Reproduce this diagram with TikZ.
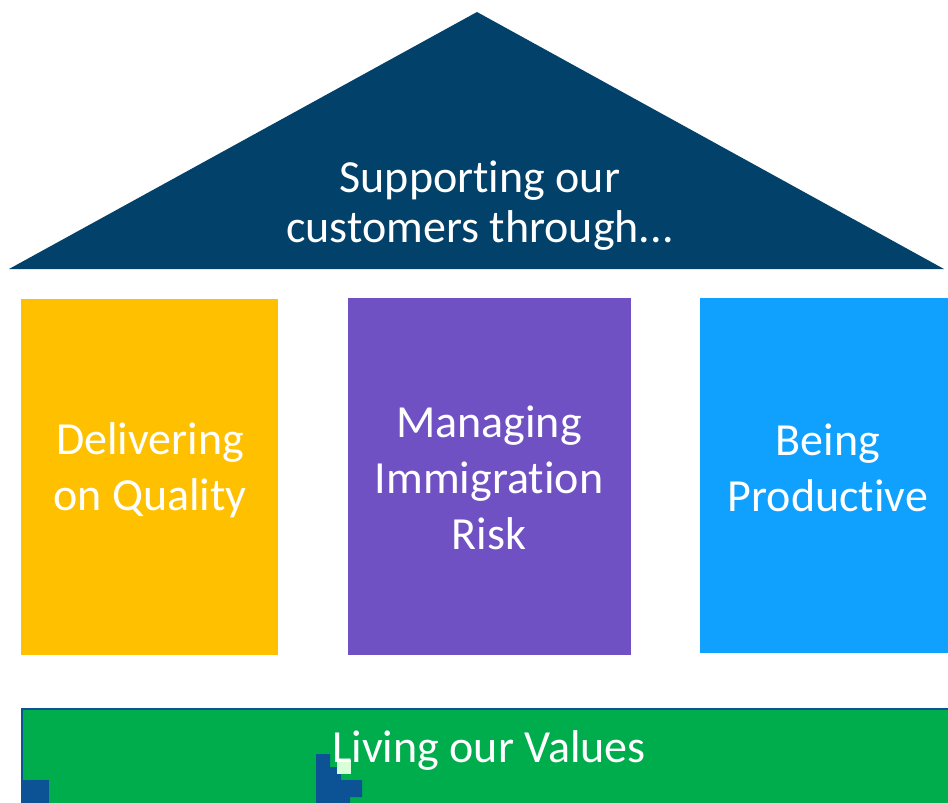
\documentclass[tikz,border=0pt]{standalone}
\usepackage{fontspec}
\setmainfont[Ligatures={NoCommon,NoContextual,NoRequired},Contextuals=NoAlternate]{Carlito}
\definecolor{roofc}{HTML}{02416A}
\definecolor{yel}{HTML}{FFC000}
\definecolor{pur}{HTML}{6F51C4}
\definecolor{sky}{HTML}{0FA1FD}
\definecolor{grn}{HTML}{00AD4C}
\definecolor{edge}{HTML}{0B5394}
\begin{document}
\begin{tikzpicture}[x=1pt,y=-1pt,
  lbl/.style={text=white,font=\fontsize{46}{56}\selectfont,align=center,inner sep=0pt}]
\useasboundingbox (0,0) rectangle (948,803);
% roof
\fill[roofc] (477,12) -- (944,269) -- (9,269) -- cycle;
\node[lbl,font=\fontsize{46}{50}\selectfont] (roof) at (480,206) {Supporting our\\customers through...};
% pillars
\fill[yel] (21,299) rectangle (278,655);
\fill[pur] (348,298) rectangle (631,655);
\fill[sky] (700,298) rectangle (948,653);
\node[lbl] (p1) at (150,470) {Delivering\\on Quality};
\node[lbl] (p2) at (489,478) {Managing\\Immigration\\Risk};
\node[lbl] (p3) at (828,468) {Being\\Productive};
% base
\fill[grn] (21,708) rectangle (948,803);
\draw[edge,line width=2pt] (22,803) -- (22,709) -- (948,709);
\fill[edge] (23,780) rectangle (49,803);
\fill[edge] (316,754) -- (330,754) -- (330,767) -- (341,767) -- (341,780) -- (362,780) -- (362,797) -- (350,797) -- (350,803) -- (316,803) -- cycle;
\fill[green!15] (337,760) rectangle (351,774);
\node[lbl] (base) at (489,750) {Living our Values};
\end{tikzpicture}
\end{document}
